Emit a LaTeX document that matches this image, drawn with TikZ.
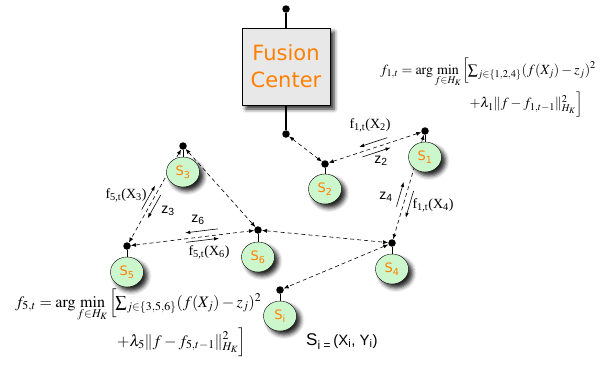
\documentclass[tikz,border=0pt]{standalone}
\usepackage{amsmath}
\usepackage{mathptmx}
\usepackage{fontspec}
\setmainfont{Liberation Serif}
\newfontfamily\fcfont{DejaVu Sans}
\newfontfamily\arialfont{Liberation Sans}
\usetikzlibrary{arrows.meta,calc,shapes.geometric,shadows.blur,backgrounds}

\definecolor{fcorange}{RGB}{255,128,0}
\definecolor{sensorgreen}{RGB}{204,247,204}
\definecolor{boxgray}{RGB}{232,232,232}

\tikzset{
  softshadow/.style={blur shadow={shadow xshift=4pt,shadow yshift=-4pt,shadow blur radius=4pt,shadow opacity=85}},
  fcbox/.style={draw=black,fill=boxgray,minimum width=88pt,minimum height=77pt,align=center,
    font=\fcfont\fontsize{21}{27}\selectfont,text=fcorange,softshadow},
  sensor/.style={ellipse,draw=black,fill=sensorgreen,minimum width=33pt,minimum height=30pt,inner sep=0pt,
    font=\fcfont\fontsize{13}{15}\selectfont,text=fcorange,softshadow},
  antdot/.style={circle,fill=black,minimum size=7.5pt,inner sep=0pt},
  link/.style={dash pattern=on 4pt off 3pt,line width=0.6pt,{Latex[length=5pt,width=4pt]}-{Latex[length=5pt,width=4pt]}},
  msgarrow/.style={line width=0.6pt,-{Latex[length=5pt,width=3.5pt]}},
  msglabel/.style={inner sep=0pt,font=\fontsize{14}{16}\selectfont},
  zlabel/.style={inner sep=0pt,font=\arialfont\fontsize{14}{16}\selectfont},
  eqtext/.style={inner sep=0pt,anchor=base west}
}

\begin{document}
\begin{tikzpicture}[x=1pt,y=-1pt]
  \useasboundingbox (0,0) rectangle (601,367);
  \node[fcbox] (fc) at (286,66.5) {Fusion\\Center};
  \node[antdot] (top) at (286,9) {};
  \node[antdot] (d0) at (286,134) {};
  \draw[line width=1.3pt] (top) -- (fc.north);
  \draw[line width=1.3pt] (fc.south) -- (d0);

  \node[sensor] (s1) at (425,157) {S\textsubscript{1}};
  \node[sensor] (s2) at (325,189) {S\textsubscript{2}};
  \node[sensor] (s3) at (183,172) {S\textsubscript{3}};
  \node[sensor] (s4) at (392,269) {S\textsubscript{4}};
  \node[sensor] (s5) at (127,272) {S\textsubscript{5}};
  \node[sensor] (s6) at (258,257) {S\textsubscript{6}};
  \node[sensor] (si) at (280,316) {S\textsubscript{i}};
  \node[antdot] (d1) at (425,131) {};
  \node[antdot] (d2) at (325,164) {};
  \node[antdot] (d3) at (183,146) {};
  \node[antdot] (d4) at (392,243) {};
  \node[antdot] (d5) at (127,246) {};
  \node[antdot] (d6) at (258,230) {};
  \node[antdot] (di) at (280,290) {};
  \draw[line width=0.8pt] (d1) -- (s1.north);
  \draw[line width=0.8pt] (d2) -- (s2.north);
  \draw[line width=0.8pt] (d3) -- (s3.north);
  \draw[line width=0.8pt] (d4) -- (s4.north);
  \draw[line width=0.8pt] (d5) -- (s5.north);
  \draw[line width=0.8pt] (d6) -- (s6.north);
  \draw[line width=0.8pt] (di) -- (si.north);

  \begin{scope}[on background layer]
    \draw[link] (d0) -- (d2);
    \draw[link] (d2) -- (d1);
    \draw[link] (d1) -- (d4);
    \draw[link] (d3) -- (d5);
    \draw[link] (d3) -- (d6);
    \draw[link] (d5) -- (d6);
    \draw[link] (d6) -- (d4);
    \draw[link] (d4) -- (di);
  \end{scope}

  % messages on S2 -- S1
  \draw[msgarrow] ($(d2)!0.64!(d1)!5.5pt!90:(d1)$) -- ($(d2)!0.36!(d1)!5.5pt!90:(d1)$);
  \draw[msgarrow] ($(d2)!0.36!(d1)!5pt!-90:(d1)$) -- ($(d2)!0.64!(d1)!5pt!-90:(d1)$);
  \node[msglabel] (f12) at (370,125) {f\textsubscript{1,t}(X\textsubscript{2})};
  \node[zlabel] (z2) at (381,161) {z\textsubscript{2}};
  % messages on S3 -- S5
  \draw[msgarrow] ($(d3)!0.66!(d5)!5pt!-90:(d5)$) -- ($(d3)!0.42!(d5)!5pt!-90:(d5)$);
  \draw[msgarrow] ($(d3)!0.47!(d5)!4.5pt!90:(d5)$) -- ($(d3)!0.70!(d5)!4.5pt!90:(d5)$);
  \node[msglabel] (f53) at (126,195) {f\textsubscript{5,t}(X\textsubscript{3})};
  \node[zlabel] (z3) at (168,211) {z\textsubscript{3}};
  % messages on S5 -- S6
  \draw[msgarrow] ($(d5)!0.70!(d6)!6pt!90:(d6)$) -- ($(d5)!0.45!(d6)!6pt!90:(d6)$);
  \draw[msgarrow] ($(d5)!0.45!(d6)!3.5pt!-90:(d6)$) -- ($(d5)!0.70!(d6)!3.5pt!-90:(d6)$);
  \node[zlabel] (z6) at (198,220) {z\textsubscript{6}};
  \node[msglabel] (f56) at (209,252) {f\textsubscript{5,t}(X\textsubscript{6})};
  % messages on S1 -- S4
  \draw[msgarrow] ($(d1)!0.52!(d4)!6pt!90:(d4)$) -- ($(d1)!0.76!(d4)!6pt!90:(d4)$);
  \draw[msgarrow] ($(d1)!0.69!(d4)!6pt!-90:(d4)$) -- ($(d1)!0.47!(d4)!6pt!-90:(d4)$);
  \node[zlabel] (z4) at (386,197) {z\textsubscript{4}};
  \node[msglabel] (f14) at (433,205) {f\textsubscript{1,t}(X\textsubscript{4})};

  \node[eqtext,font=\fontsize{14}{16}\selectfont] (eq1) at (380,74)
    {$\begin{aligned}[t] f_{1,t} = \arg\min_{f\in H_K}\Big[&\!\!\textstyle\sum_{j\in\{1,2,4\}}(f(X_j)-z_j)^2\\[1pt]
      &{+}\lambda_1\|f-f_{1,t-1}\|^2_{H_K}\Big]\end{aligned}$};
  \node[eqtext,font=\fontsize{16}{18}\selectfont] (eq5) at (15,307)
    {$\begin{aligned}[t] f_{5,t} = \arg\min_{f\in H_K}\Big[&\!\!\textstyle\sum_{j\in\{3,5,6\}}(f(X_j)-z_j)^2\\[2pt]
      &{+}\lambda_5\|f-f_{5,t-1}\|^2_{H_K}\Big]\end{aligned}$};
  \node[eqtext,font=\arialfont] (sidef) at (306,345)
    {{\fontsize{17}{19}\selectfont S}\raisebox{-4pt}{\fontsize{12}{13}\selectfont i =}\ {\fontsize{15}{17}\selectfont(X\textsubscript{i}, Y\textsubscript{i})}};
\end{tikzpicture}
\end{document}
